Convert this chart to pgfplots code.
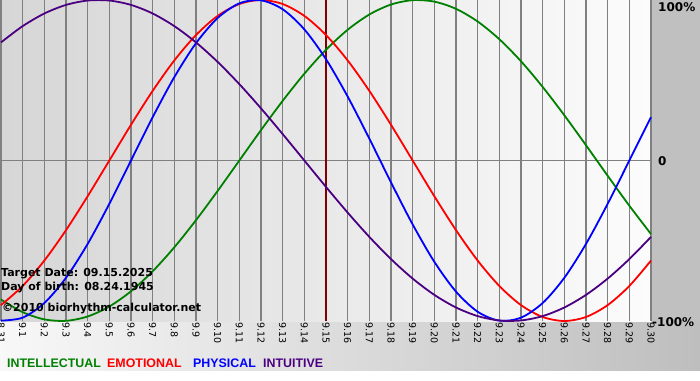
\documentclass[border=0pt]{standalone}
\usepackage{pgfplots}
\pgfplotsset{compat=1.18}
\usepackage{pgfplotstable}
\usepackage{fontspec}
\setmainfont{DejaVu Sans}
\newfontfamily\libsans{Liberation Sans}
\definecolor{intel}{RGB}{0,128,0}
\definecolor{emot}{RGB}{255,0,0}
\definecolor{phys}{RGB}{0,0,255}
\definecolor{intu}{RGB}{75,0,130}
\definecolor{tgt}{RGB}{128,0,0}
\definecolor{gridc}{RGB}{128,128,128}
\definecolor{bgl}{RGB}{214,214,214}
\definecolor{bgr}{RGB}{252,252,252}
\definecolor{bandl}{RGB}{248,248,248}
\definecolor{bandr}{RGB}{190,190,190}
\definecolor{strip}{RGB}{192,192,192}
\pgfplotstableread{
d intel emot phys intu
0 -86.60 -90.10 -99.77 73.57
1 -94.50 -78.18 -97.91 83.72
2 -98.98 -62.35 -88.79 91.58
3 -99.89 -43.39 -73.08 96.94
4 -97.18 -22.25 -51.96 99.66
5 -90.96 0 -26.98 99.66
6 -81.46 22.25 0 96.94
7 -69.01 43.39 26.98 91.58
8 -54.06 62.35 51.96 83.72
9 -37.17 78.18 73.08 73.57
10 -18.93 90.10 88.79 61.42
11 0 97.49 97.91 47.59
12 18.93 100 99.77 32.47
13 37.17 97.49 94.23 16.46
14 54.06 90.10 81.70 0
15 69.01 78.18 63.11 -16.46
16 81.46 62.35 39.84 -32.47
17 90.96 43.39 13.62 -47.59
18 97.18 22.25 -13.62 -61.42
19 99.89 0 -39.84 -73.57
20 98.98 -22.25 -63.11 -83.72
21 94.50 -43.39 -81.70 -91.58
22 86.60 -62.35 -94.23 -96.94
23 75.57 -78.18 -99.77 -99.66
24 61.82 -90.10 -97.91 -99.66
25 45.82 -97.49 -88.79 -96.94
26 28.17 -100 -73.08 -91.58
27 9.51 -97.49 -51.96 -83.72
28 -9.51 -90.10 -26.98 -73.57
29 -28.17 -78.18 0 -61.42
30 -45.82 -62.35 26.98 -47.59
}\bio
\begin{document}
\begin{tikzpicture}
\useasboundingbox (-1pt,-59pt) rectangle (699pt,321pt);
\fill[white] (-1pt,-59pt) rectangle (699pt,321pt);
\shade[left color=bandl, right color=bandr] (-1pt,-49pt) rectangle (699pt,0pt);
\fill[strip] (650pt,0pt) rectangle (699pt,321pt);
\begin{axis}[
  at={(0pt,0pt)}, anchor=south west,
  scale only axis, width=650pt, height=321pt,
  xmin=0, xmax=30, ymin=-100, ymax=100,
  axis line style={draw=none},
  major tick length=0pt,
  xtick={0,...,30},
  xticklabels={8.31,9.1,9.2,9.3,9.4,9.5,9.6,9.7,9.8,9.9,9.10,9.11,9.12,9.13,9.14,9.15,9.16,9.17,9.18,9.19,9.20,9.21,9.22,9.23,9.24,9.25,9.26,9.27,9.28,9.29,9.30},
  xticklabel style={rotate=-90, anchor=west, font=\fontsize{9.5}{9.5}\selectfont, inner sep=1pt},
  ytick=\empty,
  xmajorgrids,
  grid style={gridc, line width=1.2pt},
  axis background/.style={left color=bgl, right color=bgr},
  clip=false,
]
\draw[gridc, line width=1.2pt] (axis cs:0,0) -- (axis cs:30,0);
\draw[tgt, line width=2pt] (axis cs:15,-100) -- (axis cs:15,100);
\addplot[intel, line width=1.8pt, smooth] table[x=d, y=intel] {\bio};
\addplot[emot, line width=1.8pt, smooth] table[x=d, y=emot] {\bio};
\addplot[phys, line width=1.8pt, smooth] table[x=d, y=phys] {\bio};
\addplot[intu, line width=1.8pt, smooth] table[x=d, y=intu] {\bio};
\end{axis}
\node[anchor=west, font=\bfseries\fontsize{12}{12}\selectfont, inner sep=0pt] at (657pt,314pt) {100\%};
\node[anchor=west, font=\bfseries\fontsize{12}{12}\selectfont, inner sep=0pt] at (657pt,160pt) {0};
\node[anchor=west, font=\bfseries\fontsize{12}{12}\selectfont, inner sep=0pt] at (651pt,-1pt) {-100\%};
\node[anchor=base west, font=\bfseries\fontsize{11}{11}\selectfont, inner sep=0pt] at (0pt,45pt) {Target Date: 09.15.2025};
\node[anchor=base west, font=\bfseries\fontsize{11}{11}\selectfont, inner sep=0pt] at (0pt,31pt) {Day of birth: 08.24.1945};
\node[anchor=base west, font=\bfseries\fontsize{11}{11}\selectfont, inner sep=0pt] at (1pt,10pt) {©2010 biorhythm-calculator.net};
\node[anchor=base west, font=\libsans\bfseries\fontsize{12.4}{12.4}\selectfont, inner sep=0pt, text=intel] at (6pt,-46pt) {INTELLECTUAL};
\node[anchor=base west, font=\libsans\bfseries\fontsize{12.4}{12.4}\selectfont, inner sep=0pt, text=emot] at (106pt,-46pt) {EMOTIONAL};
\node[anchor=base west, font=\libsans\bfseries\fontsize{12.4}{12.4}\selectfont, inner sep=0pt, text=phys] at (192pt,-46pt) {PHYSICAL};
\node[anchor=base west, font=\libsans\bfseries\fontsize{12.4}{12.4}\selectfont, inner sep=0pt, text=intu] at (262pt,-46pt) {INTUITIVE};
\end{tikzpicture}
\end{document}
